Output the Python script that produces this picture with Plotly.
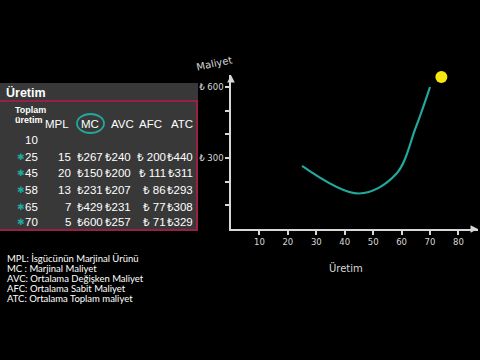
import plotly.graph_objects as go

# ---- data ----
output_q = [25, 45, 58, 65, 70]
mc_vals = [267, 150, 231, 429, 600]

table_output = ["10", "25", "45", "58", "65", "70"]
table_mpl = ["", "15", "20", "13", "7", "5"]
table_mc = ["", "267", "150", "231", "429", "600"]
table_avc = ["", "240", "200", "207", "231", "257"]
table_afc = ["", "200", "111", "86", "77", "71"]
table_atc = ["", "440", "311", "293", "308", "329"]
col_headers = ["MPL", "MC", "AVC", "AFC", "ATC"]

x_ticks = [10, 20, 30, 40, 50, 60, 70, 80]
y_ticks = [100, 200, 300, 400, 500, 600]
y_ticktext = ["", "", "₺ 300", "", "", "₺ 600"]

cursor_x = [74]
cursor_y = [642]

legend_lines = [
    "MPL: İsgücünün Marjinal Ürünü",
    "MC : Marjinal Maliyet",
    "AVC: Ortalama Değişken Maliyet",
    "AFC: Ortalama Sabit Maliyet",
    "ATC: Ortalama Toplam maliyet",
]

W, H = 480, 360
def px(x):
    return x / W
def py(y):
    return 1 - y / H

TEAL = "#22a89c"
AXC = "#d8d8d8"
RED = "#9a1f46"
FONT = "Liberation Sans, Noto Sans, DejaVu Sans"

fig = go.Figure()
fig.add_trace(go.Scatter(
    x=output_q, y=mc_vals, mode="lines",
    line=dict(color=TEAL, width=2.2, shape="spline", smoothing=1.0),
    hoverinfo="skip", showlegend=False))
fig.add_trace(go.Scatter(
    x=cursor_x, y=cursor_y, mode="markers", cliponaxis=False,
    marker=dict(color="#f4e810", size=12),
    hoverinfo="skip", showlegend=False))

x_end = (478 - 231) / 2.843
y_end = (229 - 75) / 0.2367

fig.update_layout(
    width=W, height=H,
    margin=dict(l=0, r=0, t=0, b=0),
    paper_bgcolor="black", plot_bgcolor="black",
    xaxis=dict(domain=[px(231), px(478)], range=[0, x_end],
               showgrid=False, zeroline=False, showline=True,
               linecolor=AXC, linewidth=1.5,
               tickvals=x_ticks, ticks="outside", ticklen=4,
               tickcolor=AXC, tickwidth=1.5,
               tickfont=dict(family="DejaVu Sans", size=8.5, color=AXC)),
    yaxis=dict(domain=[py(229), py(75)], range=[0, y_end],
               showgrid=False, zeroline=False, showline=True,
               linecolor=AXC, linewidth=1.5,
               tickvals=y_ticks, ticktext=y_ticktext,
               ticks="outside", ticklen=4, tickcolor=AXC, tickwidth=1.5,
               tickfont=dict(family="DejaVu Sans", size=8.5, color=AXC)),
)

shapes = []
annotations = []

def note(x, y, text, size, color="white", family=FONT, xanchor="center", **kw):
    annotations.append(dict(x=px(x), y=py(y), xref="paper", yref="paper",
                            xanchor=xanchor, yanchor="middle", text=text,
                            showarrow=False,
                            font=dict(family=family, size=size, color=color), **kw))

# axis arrows
annotations.append(dict(x=x_end, y=0, xref="x", yref="y", ax=-8, ay=0,
                        showarrow=True, arrowhead=2, arrowsize=1,
                        arrowwidth=1.5, arrowcolor=AXC, text=""))
annotations.append(dict(x=0, y=y_end, xref="x", yref="y", ax=0, ay=8,
                        showarrow=True, arrowhead=2, arrowsize=1,
                        arrowwidth=1.5, arrowcolor=AXC, text=""))

# axis titles
note(214, 63, "Maliyet", 10, color=AXC, family="DejaVu Sans", textangle=-12)
note(346, 268, "Üretim", 10, color=AXC, family="DejaVu Sans")

# table panel
shapes.append(dict(type="rect", xref="paper", yref="paper",
                   x0=px(-2), x1=px(198), y0=py(83), y1=py(231),
                   fillcolor="#383838", line=dict(width=0), layer="below"))
shapes.append(dict(type="rect", xref="paper", yref="paper",
                   x0=px(-2), x1=px(197), y0=py(101), y1=py(230),
                   fillcolor="rgba(0,0,0,0)", line=dict(color=RED, width=2)))

note(4, 93, "<b>Üretim</b>", 12.5, xanchor="left")
note(13, 110, "<b>Toplam</b>", 9, xanchor="left")
note(13, 120, "<b>üretim</b>", 9, xanchor="left")

header_cx = [57, 90, 122, 150, 182]
for h, cx in zip(col_headers, header_cx):
    note(cx, 124, h, 11.5)
# circle around MC
shapes.append(dict(type="circle", xref="paper", yref="paper",
                   x0=px(77), x1=px(104), y0=py(114), y1=py(133),
                   line=dict(color=TEAL, width=1.8)))

row_y = [140, 157, 173, 190, 207, 222]
cols = [
    (table_output, 40, ""),
    (table_mpl, 73, ""),
    (table_mc, 105, "₺"),
    (table_avc, 133, "₺"),
    (table_afc, 168, "₺ "),
    (table_atc, 195, "₺"),
]
for vals, rx, pre in cols:
    for v, ry in zip(vals, row_y):
        if v == "":
            continue
        note(rx, ry, pre + v, 11.5, xanchor="right")
for ry in row_y[1:]:
    note(21, ry, "✱", 9, color=TEAL, family="DejaVu Sans")

# legend text
for i, line in enumerate(legend_lines):
    note(5, 258 + i * 10, line, 9.5, family="Lato", xanchor="left")

fig.update_layout(shapes=shapes, annotations=annotations)
fig.write_html("out.html")
